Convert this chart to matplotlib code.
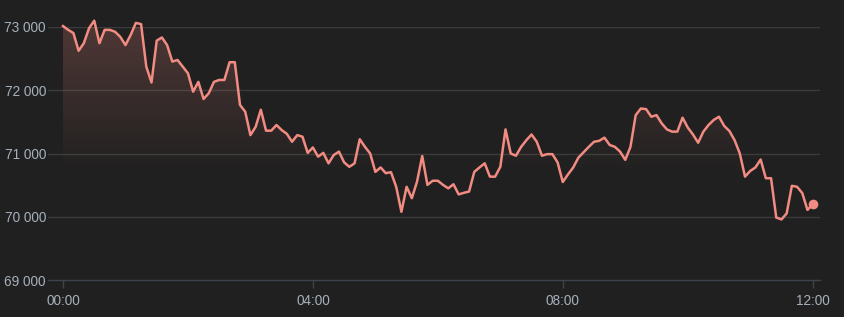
import numpy as np
import matplotlib
matplotlib.use("Agg")
import matplotlib.pyplot as plt
from matplotlib.colors import to_rgb

# ---- data: BTC-like price sampled every 5 minutes from 00:00 to 12:00 ----
start_hour = 0.0
step_minutes = 5
prices = [
    73010, 72950, 72900, 72620, 72740, 72975, 73095, 72740, 72950, 72950,
    72920, 72840, 72710, 72870, 73060, 73040, 72370, 72120, 72780, 72830,
    72710, 72450, 72475, 72370, 72265, 71975, 72130, 71860, 71950, 72130,
    72160, 72160, 72440, 72440, 71765, 71660, 71290, 71420, 71690, 71360,
    71360, 71450, 71370, 71310, 71185, 71290, 71265, 71010, 71095, 70950,
    71010, 70845, 70975, 71030, 70860, 70790, 70845, 71225, 71105, 71000,
    70710, 70780, 70690, 70705, 70475, 70080, 70475, 70295, 70555, 70960,
    70505, 70570, 70570, 70505, 70450, 70515, 70355, 70380, 70400, 70710,
    70780, 70845, 70635, 70635, 70790, 71380, 71000, 70965, 71105, 71210,
    71300, 71185, 70965, 70990, 70990, 70860, 70550, 70670, 70780, 70935,
    71020, 71105, 71185, 71200, 71250, 71135, 71105, 71030, 70900, 71105,
    71605, 71710, 71700, 71580, 71605, 71475, 71380, 71345, 71345, 71565,
    71410, 71300, 71170, 71345, 71450, 71530, 71580, 71435, 71355, 71210,
    71000, 70635, 70725, 70780, 70905, 70610, 70610, 69990, 69960, 70055,
    70490, 70475, 70375, 70110, 70200,
]
x_ticks = [0, 4, 8, 12]
x_tick_labels = ["00:00", "04:00", "08:00", "12:00"]
y_ticks = [69000, 70000, 71000, 72000, 73000]
y_tick_labels = ["69 000", "70 000", "71 000", "72 000", "73 000"]

hours = start_hour + np.arange(len(prices)) * step_minutes / 60.0
prices = np.array(prices, dtype=float)

# ---- style ----
bg = "#202020"
line_color = "#f28b82"
grid_color = "#3b3b3b"
axis_color = "#3e444c"
label_color = "#a6b0bb"

W, H = 845, 317
fig = plt.figure(figsize=(W / 100, H / 100), dpi=100, facecolor=bg)
ax = fig.add_axes([48 / W, 1 - 280.3 / H, (820 - 48) / W, (280.3 - 26.7) / H])
ax.set_facecolor(bg)

ax.set_xlim(-0.240, 12.117)
ax.set_ylim(69000, 73000)

# grid lines
for v in y_ticks[1:]:
    ax.axhline(v, color=grid_color, lw=1.0, zorder=1)
for s in ["top", "right", "left"]:
    ax.spines[s].set_visible(False)
ax.spines["bottom"].set_color(axis_color)
ax.spines["bottom"].set_linewidth(1.0)

# gradient fill under line
poly = ax.fill_between(hours, prices, 69000, color="none", lw=0)
rgb = to_rgb(line_color)
y_top, y_fade = 73100, 70650
ny = 256
ys = np.linspace(69000, 73200, ny)
alpha = np.clip((ys - y_fade) / (y_top - y_fade), 0, 1) * 0.23
img = np.zeros((ny, 2, 4))
img[..., 0], img[..., 1], img[..., 2] = rgb
img[..., 3] = alpha[:, None]
im = ax.imshow(img, origin="lower", aspect="auto",
               extent=[hours[0], hours[-1], 69000, 73200], zorder=2,
               interpolation="bilinear")
path = poly.get_paths()[0]
im.set_clip_path(path, transform=ax.transData)

ax.plot(hours, prices, color=line_color, lw=1.8, zorder=3, clip_on=False,
        solid_joinstyle="round")
ax.plot([hours[-1]], [prices[-1]], "o", color=line_color, ms=7, mew=0,
        zorder=4, clip_on=False)

ax.set_xticks(x_ticks)
ax.set_xticklabels(x_tick_labels)
ax.set_yticks(y_ticks)
ax.set_yticklabels(y_tick_labels)
ax.tick_params(axis="x", colors=axis_color, length=6, width=1, pad=4,
               labelcolor=label_color, labelsize=9.8)
ax.tick_params(axis="y", length=0, pad=1.5, labelcolor=label_color, labelsize=9.8)
for lab in ax.get_xticklabels() + ax.get_yticklabels():
    lab.set_fontfamily("Liberation Sans")

fig.savefig("out.png", dpi=100, facecolor=bg)
